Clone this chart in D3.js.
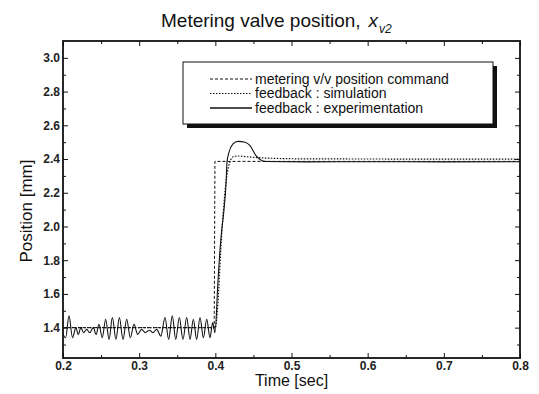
<!DOCTYPE html>
<html>
<head>
    <meta charset="utf-8">
    <script src="https://cdn.jsdelivr.net/npm/d3@7/dist/d3.min.js"></script>
    <style>
        body { margin: 0; background: white; }
        svg { display: block; font-family: "Liberation Sans", Arial, sans-serif; }
        .tick text { font-size: 12px; font-weight: bold; fill: #222; }
    </style>
</head>
<body>
    <div id="chart"></div>

    <script>
        // tick values
        const xTicks = [0.2, 0.3, 0.4, 0.5, 0.6, 0.7, 0.8];
        const xMinor = [0.25, 0.35, 0.45, 0.55, 0.65, 0.75];
        const yTicks = [1.4, 1.6, 1.8, 2.0, 2.2, 2.4, 2.6, 2.8, 3.0];
        const yMinor = [1.3, 1.5, 1.7, 1.9, 2.1, 2.3, 2.5, 2.7, 2.9];

        // metering v/v position command [time, mm]
        const commandData = [
            [0.200, 1.40], [0.3985, 1.40], [0.3995, 2.386], [0.800, 2.386]
        ];

        // feedback : simulation
        const simulationData = [
            [0.200, 1.400], [0.300, 1.400], [0.400, 1.400], [0.4035, 1.55],
            [0.407, 1.85], [0.411, 2.12], [0.415, 2.30], [0.419, 2.38],
            [0.424, 2.415], [0.430, 2.418], [0.445, 2.412], [0.470, 2.405],
            [0.520, 2.401], [0.650, 2.400], [0.800, 2.400]
        ];

        // feedback : experimentation
        const experimentData = [
            [0.200, 1.36], [0.2035, 1.34], [0.2079, 1.47], [0.2125, 1.34],
            [0.2170, 1.40], [0.2200, 1.36], [0.2235, 1.40], [0.2270, 1.37],
            [0.2311, 1.39], [0.2350, 1.37], [0.2398, 1.40], [0.2435, 1.36],
            [0.2473, 1.42], [0.2515, 1.34], [0.2560, 1.45], [0.2605, 1.33],
            [0.2648, 1.46], [0.2695, 1.33], [0.2740, 1.46], [0.2788, 1.33],
            [0.2836, 1.45], [0.2884, 1.34], [0.2932, 1.42], [0.2980, 1.36],
            [0.3033, 1.39], [0.3080, 1.37], [0.3133, 1.385], [0.3180, 1.37],
            [0.3230, 1.39], [0.3285, 1.35], [0.3339, 1.46], [0.3387, 1.33],
            [0.3435, 1.47], [0.3480, 1.33], [0.3527, 1.46], [0.3575, 1.33],
            [0.3624, 1.46], [0.3668, 1.33], [0.3711, 1.45], [0.3755, 1.33],
            [0.3799, 1.46], [0.3843, 1.34], [0.3887, 1.45], [0.3930, 1.34],
            [0.3965, 1.43], [0.3995, 1.37], [0.4035, 1.68], [0.4061, 1.86],
            [0.4084, 1.98], [0.4114, 2.10], [0.4140, 2.25], [0.4153, 2.38],
            [0.4179, 2.44], [0.4232, 2.49], [0.4297, 2.505], [0.4389, 2.50],
            [0.4455, 2.48], [0.4534, 2.42], [0.4613, 2.39], [0.4678, 2.385],
            [0.520, 2.383], [0.600, 2.384], [0.700, 2.383], [0.800, 2.384]
        ];

        const width = 539;
        const height = 394;
        const margin = {top: 41, right: 19, bottom: 36, left: 63};

        const svg = d3.select("#chart")
            .append("svg")
            .attr("width", width)
            .attr("height", height);

        const x = d3.scaleLinear()
            .domain([0.2, 0.8])
            .range([margin.left, width - margin.right]);

        const y = d3.scaleLinear()
            .domain([1.22, 3.1])
            .range([height - margin.bottom, margin.top]);

        const fmt = d3.format(".1f");

        // major + minor ticks on all four sides, pointing inward
        function addAxis(axisFn, scale, ticks, minor, transform, showLabels, pad) {
            svg.append("g")
                .attr("transform", transform)
                .call(axisFn(scale).tickValues(ticks).tickSize(-5).tickPadding(pad)
                    .tickFormat(showLabels ? fmt : ""))
                .call(g => g.select(".domain").remove());
            svg.append("g")
                .attr("transform", transform)
                .call(axisFn(scale).tickValues(minor).tickSize(-3).tickFormat(""))
                .call(g => g.select(".domain").remove());
        }

        addAxis(d3.axisBottom, x, xTicks, xMinor, `translate(0,${height - margin.bottom})`, true, 3);
        addAxis(d3.axisTop, x, xTicks, xMinor, `translate(0,${margin.top})`, false, 0);
        addAxis(d3.axisLeft, y, yTicks, yMinor, `translate(${margin.left},0)`, true, 3);
        addAxis(d3.axisRight, y, yTicks, yMinor, `translate(${width - margin.right},0)`, false, 0);

        svg.selectAll(".tick line").attr("stroke", "#111").attr("stroke-width", 1);

        // frame
        svg.append("rect")
            .attr("x", margin.left)
            .attr("y", margin.top)
            .attr("width", width - margin.left - margin.right)
            .attr("height", height - margin.top - margin.bottom)
            .attr("fill", "none")
            .attr("stroke", "#111")
            .attr("stroke-width", 1.8);

        svg.append("clipPath")
            .attr("id", "plot-clip")
            .append("rect")
            .attr("x", margin.left)
            .attr("y", margin.top)
            .attr("width", width - margin.left - margin.right)
            .attr("height", height - margin.top - margin.bottom);

        const plot = svg.append("g").attr("clip-path", "url(#plot-clip)");

        const line = d3.line()
            .x(d => x(d[0]))
            .y(d => y(d[1]));

        const smooth = d3.line()
            .x(d => x(d[0]))
            .y(d => y(d[1]))
            .curve(d3.curveMonotoneX);

        plot.append("path")
            .datum(commandData)
            .attr("d", line)
            .attr("fill", "none")
            .attr("stroke", "#111")
            .attr("stroke-width", 1)
            .attr("stroke-dasharray", "3,2");

        plot.append("path")
            .datum(simulationData)
            .attr("d", smooth)
            .attr("fill", "none")
            .attr("stroke", "#111")
            .attr("stroke-width", 1.2)
            .attr("stroke-dasharray", "1.5,1.5");

        plot.append("path")
            .datum(experimentData)
            .attr("d", smooth)
            .attr("fill", "none")
            .attr("stroke", "#111")
            .attr("stroke-width", 1.1);

        // legend with drop shadow
        const legend = svg.append("g").attr("transform", "translate(183,62)");
        legend.append("rect")
            .attr("x", 4).attr("y", 4)
            .attr("width", 310).attr("height", 62)
            .attr("fill", "#111");
        legend.append("rect")
            .attr("width", 310).attr("height", 62)
            .attr("fill", "white")
            .attr("stroke", "#111")
            .attr("stroke-width", 1);

        const legendItems = [
            {label: "metering v/v position command", dash: "3,2"},
            {label: "feedback : simulation", dash: "1.5,1.5"},
            {label: "feedback : experimentation", dash: null}
        ];

        legendItems.forEach((d, i) => {
            const yy = 17 + i * 14.5;
            legend.append("line")
                .attr("x1", 27).attr("x2", 69)
                .attr("y1", yy).attr("y2", yy)
                .attr("stroke", "#111")
                .attr("stroke-width", d.dash ? 1 : 1.3)
                .attr("stroke-dasharray", d.dash);
            legend.append("text")
                .attr("x", 72)
                .attr("y", yy + 4.5)
                .attr("font-size", 14)
                .attr("fill", "#111")
                .text(d.label);
        });

        // title
        const title = svg.append("text")
            .attr("x", 161)
            .attr("y", 27)
            .attr("font-size", 19)
            .attr("fill", "#111");
        title.append("tspan").text("Metering valve position,");
        title.append("tspan").attr("dx", 8).attr("font-style", "italic").attr("font-size", 19).text("x");
        title.append("tspan").attr("dy", 6).attr("dx", 1).attr("font-style", "italic").attr("font-size", 12).text("v2");

        // axis titles
        svg.append("text")
            .attr("x", (margin.left + width - margin.right) / 2)
            .attr("y", 386)
            .attr("text-anchor", "middle")
            .attr("font-size", 16)
            .attr("fill", "#111")
            .text("Time [sec]");

        svg.append("text")
            .attr("transform", "translate(32,211) rotate(-90)")
            .attr("text-anchor", "middle")
            .attr("font-size", 17)
            .attr("fill", "#111")
            .text("Position [mm]");
    </script>
</body>
</html>
